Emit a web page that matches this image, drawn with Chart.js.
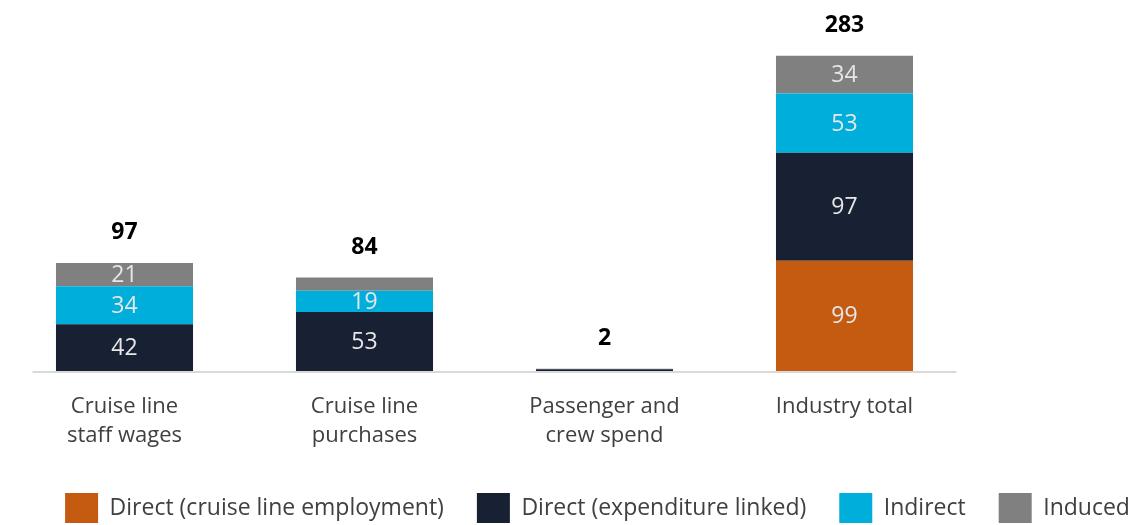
<!DOCTYPE html>
<html>
<head>
<meta charset="utf-8">
<script src="https://cdn.jsdelivr.net/npm/chart.js@4"></script>
<style>
  html, body { margin: 0; padding: 0; background: #fff; overflow: hidden; width: 1144px; height: 525px; }
  #wrap { position: relative; width: 1195px; height: 533px; }
</style>
</head>
<body>
<div id="wrap"><canvas id="chart" width="1195" height="533"></canvas></div>
<script>
const categories = [['Cruise line', 'staff wages'], ['Cruise line', 'purchases'], ['Passenger and', 'crew spend'], 'Industry total']
const directEmployment = [0, 0, 0, 99]
const directExpenditure = [42, 53, 1.5, 97]
const indirect = [34, 19, 0, 53]
const induced = [21, 12, 0.5, 34]
const totals = [97, 84, 2, 283]

Chart.defaults.font.family = '"Open Sans", sans-serif'

// baseline + value labels (no datalabels plugin offline)
const barLabels = {
  id: 'barLabels',
  beforeDatasetsDraw(chart) {
    const ctx = chart.ctx
    const y0 = chart.scales.y.getPixelForValue(0)
    ctx.save()
    ctx.strokeStyle = '#d9d9d9'
    ctx.lineWidth = 2
    ctx.beginPath()
    ctx.moveTo(chart.chartArea.left + 28, y0 + 1)
    ctx.lineTo(chart.chartArea.right - 8, y0 + 1)
    ctx.stroke()
    ctx.restore()
  },
  afterDatasetsDraw(chart) {
    const ctx = chart.ctx
    ctx.save()
    ctx.textAlign = 'center'
    ctx.textBaseline = 'middle'
    ctx.font = '23px "Open Sans"'
    ctx.fillStyle = '#e6e6e6'
    chart.data.datasets.forEach((ds, i) => {
      chart.getDatasetMeta(i).data.forEach((bar, j) => {
        if (Math.abs(bar.base - bar.y) < 18) return
        ctx.fillText(ds.data[j], bar.x, (bar.y + bar.base) / 2 + 1)
      })
    })
    ctx.font = 'bold 23px "Open Sans"'
    ctx.fillStyle = '#000'
    const top = chart.getDatasetMeta(chart.data.datasets.length - 1).data
    totals.forEach((t, j) => {
      ctx.fillText(t, top[j].x, chart.scales.y.getPixelForValue(t) - 30)
    })
    ctx.restore()
  }
}

new Chart(document.getElementById('chart'), {
  type: 'bar',
  data: {
    labels: categories,
    datasets: [
      { label: 'Direct (cruise line employment)', data: directEmployment, backgroundColor: '#c55a11' },
      { label: 'Direct (expenditure linked)', data: directExpenditure, backgroundColor: '#182033' },
      { label: 'Indirect', data: indirect, backgroundColor: '#00aedb' },
      { label: 'Induced', data: induced, backgroundColor: '#808080' }
    ]
  },
  options: {
    responsive: false,
    animation: false,
    devicePixelRatio: 1,
    datasets: { bar: { barPercentage: 1, categoryPercentage: 0.571, borderWidth: 0 } },
    layout: { padding: 0 },
    scales: {
      x: {
        stacked: true,
        grid: { display: false, drawTicks: false },
        border: { display: false },
        ticks: { color: '#404040', font: { size: 22, lineHeight: 1.32 }, padding: 21, maxRotation: 0, autoSkip: false },
        afterFit: s => { s.height = 89 }
      },
      y: {
        stacked: true,
        min: 0,
        max: 333,
        ticks: { display: false },
        grid: { display: false, drawTicks: false },
        border: { display: false },
        afterFit: s => { s.width = 4.5 }
      },
      yRight: {
        position: 'right',
        ticks: { display: false },
        grid: { display: false, drawTicks: false },
        border: { display: false },
        afterFit: s => { s.width = 230.5 }
      }
    },
    plugins: {
      legend: {
        position: 'bottom',
        labels: { boxWidth: 33, boxHeight: 30, padding: 33, color: '#404040', font: { size: 23 } }
      },
      tooltip: { enabled: false }
    }
  },
  plugins: [barLabels]
})
</script>
</body>
</html>
